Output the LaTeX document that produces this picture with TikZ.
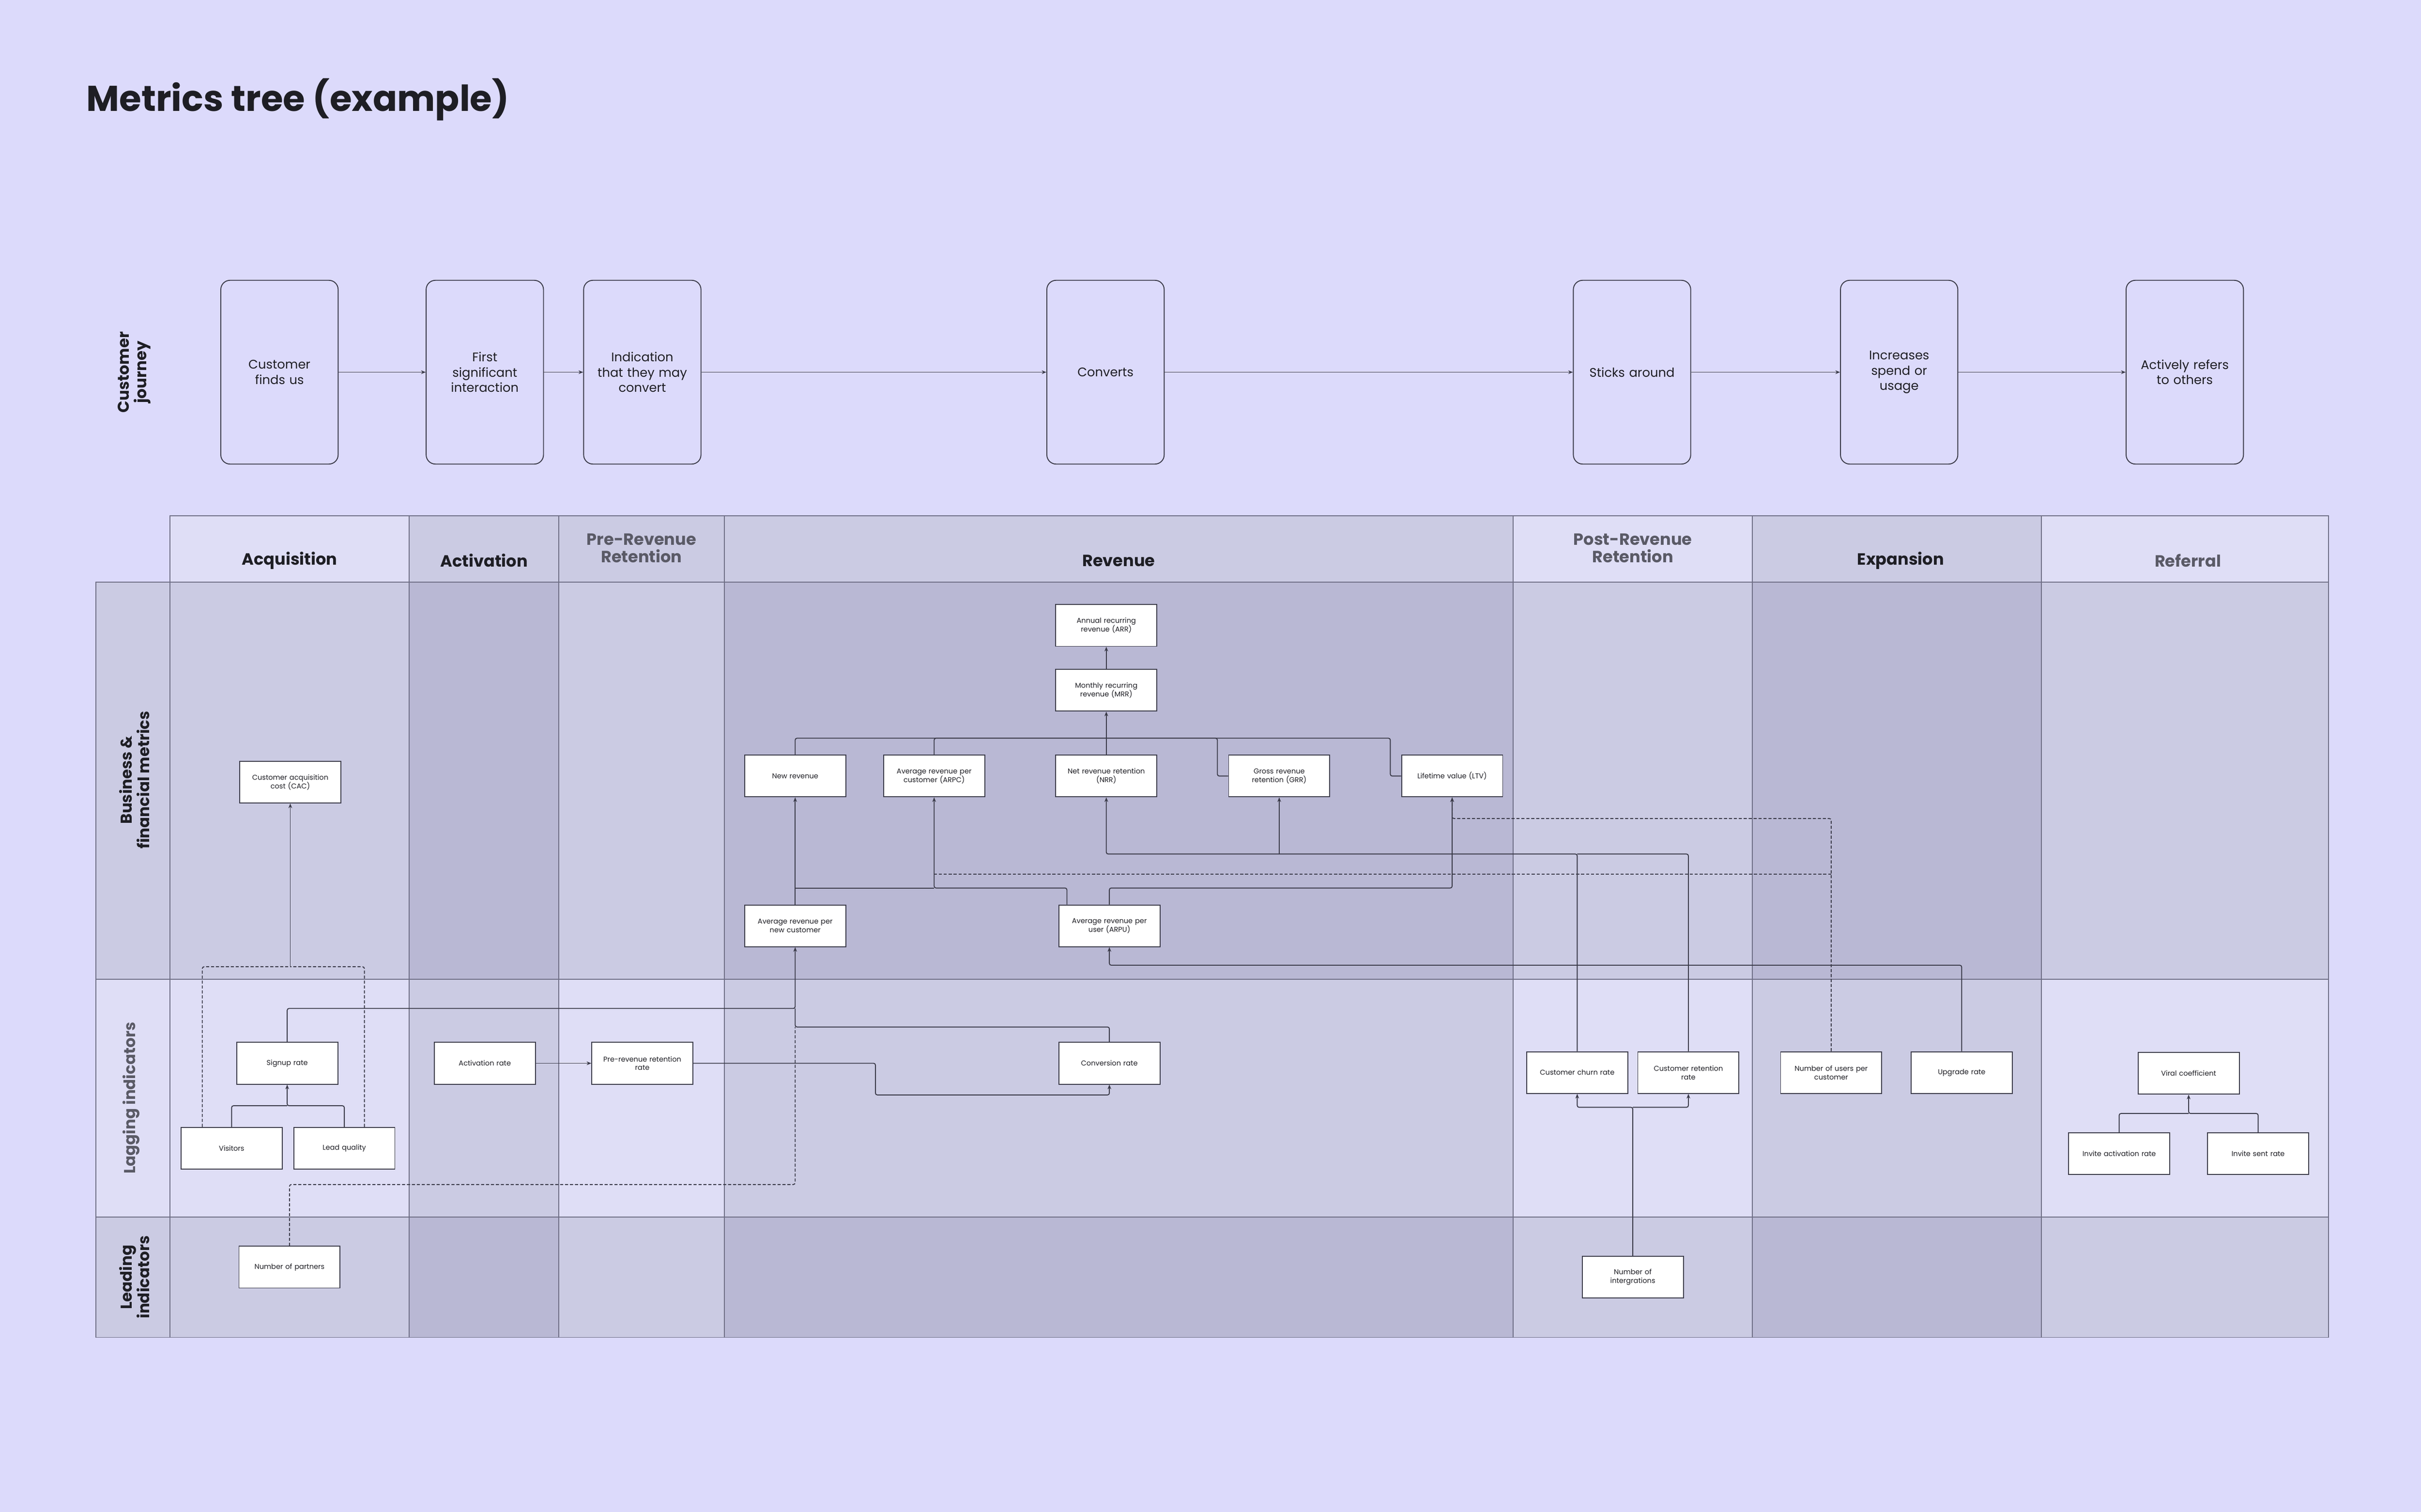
\documentclass[tikz,border=0pt]{standalone}
\usepackage{fontspec}
\setmainfont{Poppins}
\usetikzlibrary{arrows.meta}
\definecolor{bgc}{HTML}{DCDAFB}
\definecolor{lt}{HTML}{DFDEF6}
\definecolor{md}{HTML}{CBCBE3}
\definecolor{dk}{HTML}{B9B8D4}
\definecolor{ink}{HTML}{1E1E24}
\definecolor{gline}{HTML}{6E6E85}
\definecolor{lnc}{HTML}{3A3A48}
\definecolor{gtx}{HTML}{5A5A66}
\begin{document}
\begin{tikzpicture}[x=1mm,y=-1mm,
  cell/.style={draw=gline,line width=0.6mm},
  jb/.style={draw=lnc,line width=0.6mm,rounded corners=6mm,minimum width=76mm,minimum height=119mm,align=center,text width=70mm,font=\fontsize{23}{28}\selectfont,text=ink},
  mb/.style={draw=lnc,fill=white,line width=0.6mm,minimum width=65.5mm,minimum height=27mm,align=center,text width=62mm,inner sep=0pt,font=\fontsize{13}{16}\selectfont,text=ink},
  hd/.style={align=center,font=\fontsize{30}{32}\selectfont\bfseries,text=ink},
  hdg/.style={hd,text=gtx},
  rl/.style={rotate=90,align=center,font=\fontsize{29}{32}\selectfont\bfseries,text=ink},
  ln/.style={draw=lnc,line width=0.6mm,rounded corners=1.2mm},
  ar/.style={ln,-{Stealth[length=3mm,width=2.4mm]}},
  dl/.style={ln,dash pattern=on 2mm off 1.2mm},
  da/.style={dl,-{Stealth[length=3mm,width=2.4mm]}}]
\fill[bgc] (0,0) rectangle (1568,979);
\useasboundingbox (0,0) rectangle (1568,979);
\node[anchor=base west,font=\fontsize{66}{70}\selectfont\bfseries,text=ink,inner sep=0] (title) at (56,72) {Metrics tree (example)};
% grid
\def\xs{110,265,362,469,980,1135,1322,1508}
\foreach \a/\b/\h/\r/\l/\d in {110/265/lt/md/lt/md, 265/362/md/dk/md/dk, 362/469/md/md/lt/md, 469/980/md/dk/md/dk, 980/1135/lt/md/lt/md, 1135/1322/md/dk/md/dk, 1322/1508/lt/md/lt/md}{
  \fill[\h] (\a,334) rectangle (\b,377);
  \fill[\r] (\a,377) rectangle (\b,634);
  \fill[\l] (\a,634) rectangle (\b,788);
  \fill[\d] (\a,788) rectangle (\b,866);
  \draw[cell] (\a,334) rectangle (\b,377);
  \draw[cell] (\a,377) rectangle (\b,866);
  \draw[cell] (\a,634) -- (\b,634) (\a,788) -- (\b,788);
}
\fill[md] (62,377) rectangle (110,634);
\fill[lt] (62,634) rectangle (110,788);
\fill[md] (62,788) rectangle (110,866);
\draw[cell] (62,377) rectangle (110,866) (62,634) -- (110,634) (62,788) -- (110,788);
% headers
\node[hd] (hA) at (187.5,363) {Acquisition};
\node[hd] (hB) at (313.5,363) {Activation};
\node[hdg] (hC) at (415.5,355) {Pre-Revenue\\Retention};
\node[hd] (hD) at (724.5,363) {Revenue};
\node[hdg] (hE) at (1057.5,355) {Post-Revenue\\Retention};
\node[hd] (hF) at (1231,363) {Expansion};
\node[hdg] (hG) at (1417,363) {Referral};
% row labels
\node[rl] (r0) at (87,241) {Customer\\journey};
\node[rl] (r1) at (87,505) {Business \&\\financial metrics};
\node[rl,text=gtx] (r2) at (85,711) {Lagging indicators};
\node[rl] (r3) at (87,827) {Leading\\indicators};
% journey
\node[jb] (j1) at (181,241) {Customer\\finds us};
\node[jb] (j2) at (314,241) {First\\significant\\interaction};
\node[jb] (j3) at (416,241) {Indication\\that they may\\convert};
\node[jb] (j4) at (716,241) {Converts};
\node[jb] (j5) at (1057,241) {Sticks around};
\node[jb] (j6) at (1230,241) {Increases\\spend or\\usage};
\node[jb] (j7) at (1415,241) {Actively refers\\to others};
\foreach \p/\q in {j1/j2,j2/j3,j3/j4,j4/j5,j5/j6,j6/j7}{\draw[ar] (\p) -- (\q);}
% metric boxes
\node[mb] (cac) at (188,506.5) {Customer acquisition\\cost (CAC)};
\node[mb] (arr) at (716.5,405) {Annual recurring\\revenue (ARR)};
\node[mb] (mrr) at (716.5,447) {Monthly recurring\\revenue (MRR)};
\node[mb] (nrev) at (515,502.5) {New revenue};
\node[mb] (arpc) at (605,502.5) {Average revenue per\\customer (ARPC)};
\node[mb] (nrr) at (716.5,502.5) {Net revenue retention\\(NRR)};
\node[mb] (grr) at (828.5,502.5) {Gross revenue\\retention (GRR)};
\node[mb] (ltv) at (940.5,502.5) {Lifetime value (LTV)};
\node[mb] (anc) at (515,599.5) {Average revenue per\\new customer};
\node[mb] (arpu) at (718.5,599.5) {Average revenue per\\user (ARPU)};
\node[mb] (sign) at (186,688.5) {Signup rate};
\node[mb] (vis) at (150,743.5) {Visitors};
\node[mb] (lead) at (223,743.5) {Lead quality};
\node[mb] (act) at (314,688.5) {Activation rate};
\node[mb] (prr) at (416,688.5) {Pre-revenue retention\\rate};
\node[mb] (conv) at (718.5,688.5) {Conversion rate};
\node[mb] (churn) at (1021.5,694.5) {Customer churn rate};
\node[mb] (cret) at (1093.5,694.5) {Customer retention\\rate};
\node[mb] (nupc) at (1186,694.5) {Number of users per\\customer};
\node[mb] (upg) at (1270.5,694.5) {Upgrade rate};
\node[mb] (viral) at (1417.5,695) {Viral coefficient};
\node[mb] (iar) at (1372.5,747) {Invite activation rate};
\node[mb] (isr) at (1462.5,747) {Invite sent rate};
\node[mb] (npart) at (187.5,820.5) {Number of partners};
\node[mb] (nint) at (1057.5,827) {Number of\\intergrations};
% coordinates
\coordinate (bus) at (716.5,478);
\coordinate (c575a) at (515,575);
\coordinate (c575b) at (605,575);
\coordinate (c553) at (716.5,553);
\coordinate (c626) at (188,626);
\coordinate (c653) at (515,653);
\coordinate (c665) at (515,665);
\coordinate (c716) at (186,716);
\coordinate (c717) at (1057.5,717);
\coordinate (c721) at (1417.5,721);
% connectors
\draw[ar] (mrr) -- (arr);
\draw[ln] (nrev.north) |- (bus);
\draw[ln] (arpc.north) |- (bus);
\draw[ln] (grr.west) -- ++(-7,0) |- (bus);
\draw[ln] (ltv.west) -- ++(-7,0) |- (bus);
\draw[ar] (nrr.north) -- (mrr.south);
\draw[ar] (anc.north) -- (nrev.south);
\draw[ln] (c575a) -- (c575b);
\draw[ar] ([xshift=-27.5mm]arpu.north) |- (c575b) -- (arpc.south);
\draw[ar] (arpu.north) |- (940.5,575) -- (ltv.south);
\draw[ar] (churn.north) |- (c553) -- (nrr.south);
\draw[ln] (cret.north) |- (1021.5,553);
\draw[ar] (828.5,553) -- (grr.south);
\draw[da] (nupc.north) |- (940.5,530) -- (ltv.south);
\draw[dl] (1186,566) -- (605,566);
\draw[ar] (upg.north) |- (718.5,625) -- (arpu.south);
\draw[ar] (sign.north) |- (c653) -- (anc.south);
\draw[ln] (conv.north) |- (c665) -- (c653);
\draw[ar] (act) -- (prr);
\draw[ar] (prr.east) -| (567,709) -| (conv.south);
\draw[ln] (vis.north) |- (c716);
\draw[ar] (lead.north) |- (c716) -- (sign.south);
\draw[dl] ([xshift=-19mm]vis.north) |- (c626);
\draw[dl] ([xshift=13mm]lead.north) |- (c626);
\draw[ar] (c626) -- (cac.south);
\draw[dl] (npart.north) |- (515,767) -- (c665);
\draw[ar] (nint.north) -- (c717) -| (churn.south);
\draw[ar] (c717) -| (cret.south);
\draw[ln] (iar.north) |- (c721);
\draw[ar] (isr.north) |- (c721) -- (viral.south);
\end{tikzpicture}
\end{document}
